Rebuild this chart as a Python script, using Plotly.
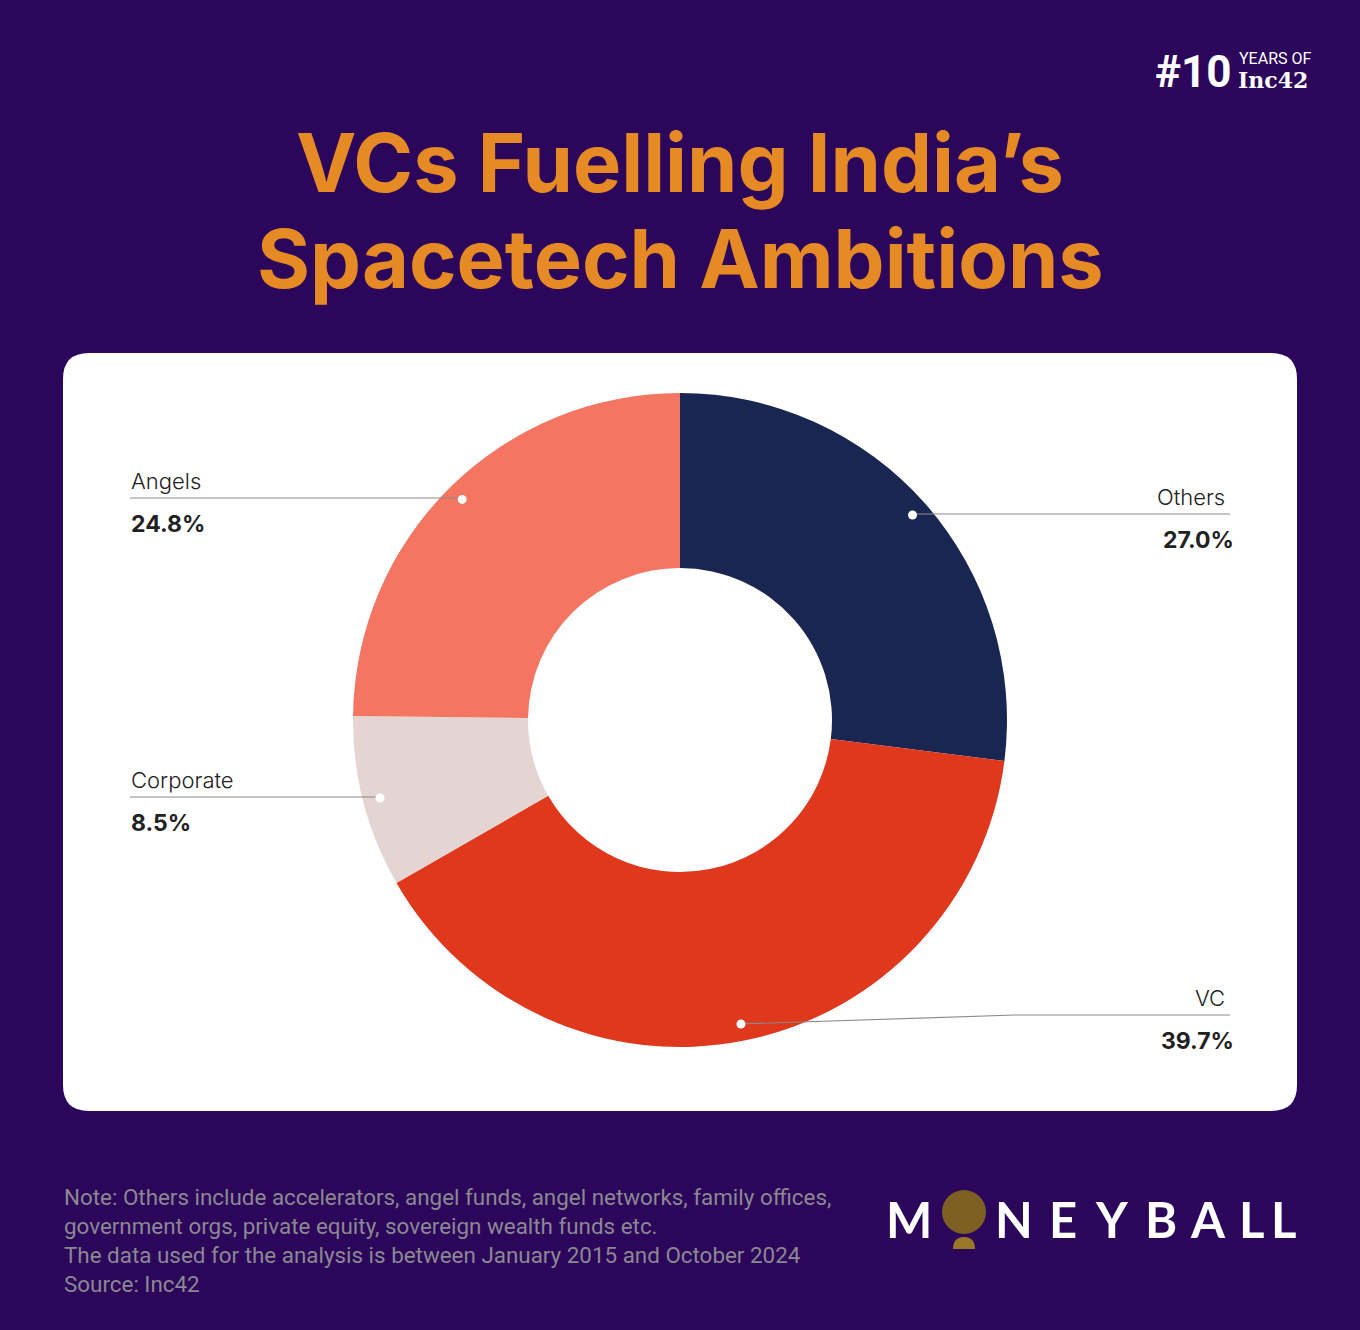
import math
import plotly.graph_objects as go

# ---------------- data ----------------
categories = ["Others", "VC", "Corporate", "Angels"]
shares = [27.0, 39.7, 8.5, 24.8]
slice_colors = ["#1a2652", "#e0381c", "#e4d5d3", "#f47561"]

title_lines = ["VCs Fuelling India’s", "Spacetech Ambitions"]
note_lines = [
    "Note: Others include accelerators, angel funds, angel networks, family offices,",
    "government orgs, private equity, sovereign wealth funds etc.",
    "The data used for the analysis is between January 2015 and October 2024",
    "Source: Inc42",
]

# ---------------- layout / style ----------------
W, H = 1360, 1330
BG = "#2b065a"
ORANGE = "#e68a25"
CX, CY = 680, 720          # donut centre (px)
R_OUT, R_IN = 327, 152
R_DOT = 310
label_side = ["right", "right", "left", "left"]
label_line_y = [514, 1015, 797, 498]   # horizontal leader y per label (px)
LEFT_X, RIGHT_X = 130, 1230

def px(x):
    return x / W

def py(y):
    return 1 - y / H

fig = go.Figure()
fig.add_trace(go.Pie(
    labels=categories,
    values=shares,
    hole=R_IN / R_OUT,
    sort=False,
    direction="clockwise",
    rotation=0,
    marker=dict(colors=slice_colors, line=dict(width=0)),
    textinfo="none",
    hoverinfo="label+percent",
    domain=dict(x=[px(CX - R_OUT), px(CX + R_OUT)], y=[py(CY + R_OUT), py(CY - R_OUT)]),
))

shapes = []
annotations = []

# white rounded card
x0, y0, x1, y1, r = 63, 353, 1297, 1111, 26
path = (f"M {px(x0 + r)},{py(y0)} L {px(x1 - r)},{py(y0)} Q {px(x1)},{py(y0)} {px(x1)},{py(y0 + r)} "
        f"L {px(x1)},{py(y1 - r)} Q {px(x1)},{py(y1)} {px(x1 - r)},{py(y1)} "
        f"L {px(x0 + r)},{py(y1)} Q {px(x0)},{py(y1)} {px(x0)},{py(y1 - r)} "
        f"L {px(x0)},{py(y0 + r)} Q {px(x0)},{py(y0)} {px(x0 + r)},{py(y0)} Z")
shapes.append(dict(type="path", xref="paper", yref="paper", path=path,
                   fillcolor="white", line=dict(width=0), layer="below"))

# leader lines, dots, labels computed from slice mid-angles
total = sum(shares)
cum = 0.0
for i, (cat, val) in enumerate(zip(categories, shares)):
    mid = (cum + val / 2) / total
    cum += val
    ang = math.radians(90 - 360 * mid)
    dx = CX + R_DOT * math.cos(ang)
    dy = CY - R_DOT * math.sin(ang)
    ly = label_line_y[i]
    if label_side[i] == "right":
        ex = RIGHT_X
        elbow_x = max(dx, 1015) if abs(ly - dy) > 2 else dx
        anchor = "right"
        tx = RIGHT_X - 3
    else:
        ex = LEFT_X
        elbow_x = dx
        anchor = "left"
        tx = LEFT_X - 1
    shapes.append(dict(type="line", xref="paper", yref="paper",
                       x0=px(dx), y0=py(dy), x1=px(elbow_x), y1=py(ly),
                       line=dict(color="#8a8a8a", width=1.2), layer="above"))
    shapes.append(dict(type="line", xref="paper", yref="paper",
                       x0=px(elbow_x), y0=py(ly), x1=px(ex), y1=py(ly),
                       line=dict(color="#8a8a8a", width=1.2), layer="above"))
    rr = 4.5
    shapes.append(dict(type="circle", xref="paper", yref="paper",
                       x0=px(dx - rr), x1=px(dx + rr), y0=py(dy + rr), y1=py(dy - rr),
                       fillcolor="white", line=dict(width=0), layer="above"))
    annotations.append(dict(xref="paper", yref="paper", x=px(tx), y=py(ly - 2),
                            xanchor=anchor, yanchor="bottom", showarrow=False,
                            text=cat, font=dict(family="Inter", size=22, color="#222222", weight=300)))
    annotations.append(dict(xref="paper", yref="paper", x=px(tx + (9 if anchor == "right" else 0)), y=py(ly + 10),
                            xanchor=anchor, yanchor="top", showarrow=False,
                            text=f"{val:.1f}%", font=dict(family="Inter", size=23, color="#222222", weight=700)))

# title
for k, line in enumerate(title_lines):
    annotations.append(dict(xref="paper", yref="paper", x=0.5, y=py(163 + 96 * k),
                            xanchor="center", yanchor="middle", showarrow=False,
                            text=line,
                            font=dict(family="Inter", size=81, color=ORANGE, weight=700)))

# footer note
for k, line in enumerate(note_lines):
    annotations.append(dict(xref="paper", yref="paper", x=px(62), y=py(1197 + 29 * k),
                            xanchor="left", yanchor="middle", showarrow=False,
                            text=line, font=dict(family="Roboto", size=22.4, color="#8b8893")))

# MONEYBALL logo
logo_letters = ["M", "N", "E", "Y", "B", "A", "L", "L"]
logo_x = [909, 1014, 1063, 1112, 1161, 1208, 1251, 1283]
for ch, lx in zip(logo_letters, logo_x):
    annotations.append(dict(xref="paper", yref="paper", x=px(lx), y=py(1219),
                            xanchor="center", yanchor="middle", showarrow=False,
                            text=f"<b>{ch}</b>",
                            font=dict(family="Lato", size=49, color="white")))
shapes.append(dict(type="circle", xref="paper", yref="paper",
                   x0=px(942), x1=px(986), y0=py(1234), y1=py(1190),
                   fillcolor="#7d6024", line=dict(width=0), layer="above"))
shapes.append(dict(type="path", xref="paper", yref="paper",
                   path=f"M {px(953)},{py(1249)} Q {px(953)},{py(1237)} {px(964)},{py(1237)} "
                        f"Q {px(975)},{py(1237)} {px(975)},{py(1249)} Z",
                   fillcolor="#9a7626", line=dict(width=0), layer="above"))

# #10 YEARS OF Inc42 logo
annotations.append(dict(xref="paper", yref="paper", x=px(1234), y=py(72),
                        xanchor="right", yanchor="middle", showarrow=False,
                        text="<b>#10</b>", font=dict(family="Roboto", size=44, color="white")))
annotations.append(dict(xref="paper", yref="paper", x=px(1237), y=py(58),
                        xanchor="left", yanchor="middle", showarrow=False,
                        text="YEARS OF", font=dict(family="Roboto", size=16, color="white")))
annotations.append(dict(xref="paper", yref="paper", x=px(1236), y=py(80),
                        xanchor="left", yanchor="middle", showarrow=False,
                        text="<b>Inc42</b>", font=dict(family="DejaVu Serif", size=22, color="white")))

fig.update_layout(
    width=W, height=H,
    margin=dict(l=0, r=0, t=0, b=0),
    paper_bgcolor=BG, plot_bgcolor=BG,
    showlegend=False,
    shapes=shapes,
    annotations=annotations,
)

fig.write_html("out.html")
